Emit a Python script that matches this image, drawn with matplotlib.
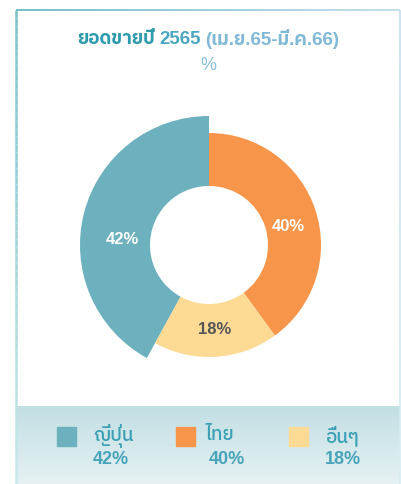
import matplotlib
matplotlib.use("Agg")
import matplotlib.pyplot as plt
import numpy as np
from matplotlib.patches import Rectangle
from matplotlib.collections import LineCollection
from matplotlib.colors import LinearSegmentedColormap

# data
categories = ["ญี่ปุ่น", "ไทย", "อื่นๆ"]
shares = [42, 40, 18]
colors = ["#6db0be", "#f7964a", "#feda94"]
label_colors = ["white", "white", "#555555"]
title_parts = ["ยอดขายปี", "2565", "(เม.ย.65-มี.ค.66)"]
title_colors = ["#2e9aae", "#4aa7c0", "#80b9d5"]
unit = "%"

FONT = ["Liberation Sans", "IBM Plex Sans Thai"]
W, H = 401, 485

fig = plt.figure(figsize=(W / 100, H / 100), dpi=100)
fig.patch.set_facecolor("white")

# background axes in pixel coordinates
bg = fig.add_axes([0, 0, 1, 1])
bg.set_xlim(0, W)
bg.set_ylim(H, 0)
bg.axis("off")

# legend panel gradient
grad = np.linspace(0, 1, 100).reshape(-1, 1)
cmap_panel = LinearSegmentedColormap.from_list("p", ["#c2dfe4", "#e6f1f3"])
bg.imshow(grad, cmap=cmap_panel, extent=[17, 399.5, 485, 407], aspect="auto", zorder=0)

# frame lines with gradients
def grad_line(x0, y0, x1, y1, c0, c1, lw):
    n = 60
    xs = np.linspace(x0, x1, n + 1)
    ys = np.linspace(y0, y1, n + 1)
    segs = [[(xs[i], ys[i]), (xs[i + 1], ys[i + 1])] for i in range(n)]
    cm = LinearSegmentedColormap.from_list("l", [c0, c1])
    lc = LineCollection(segs, colors=cm(np.linspace(0, 1, n)), linewidths=lw, zorder=2)
    bg.add_collection(lc)

grad_line(16, 11, 400, 11, "#72bfc8", "#c6deec", 1.4)
grad_line(16, 11, 16, 485, "#78c2ca", "#c8e8ea", 1.8)
grad_line(399.5, 11, 399.5, 485, "#c6deec", "#d8ecf2", 1.2)

# title made of gradient-coloured pieces
renderer = fig.canvas.get_renderer()
texts = []
for part, c in zip(title_parts, title_colors):
    t = bg.text(0, 39, part, fontsize=13.5, fontweight="bold", color=c,
                family=FONT, va="center", ha="left")
    texts.append(t)
gap = 4
widths = [t.get_window_extent(renderer).width for t in texts]
total = sum(widths) + gap * (len(widths) - 1)
x = 208 - total / 2
for t, w in zip(texts, widths):
    t.set_x(x)
    x += w + gap

bg.text(208, 65, unit, fontsize=13, color="#8cc0d8", family=FONT,
        ha="center", va="center")

# donut
cx, cy, R = 209, 246, 112
half = 140
ax = fig.add_axes([(cx - half) / W, (H - cy - half) / H, 2 * half / W, 2 * half / H])
start = 90 + shares[0] / 100 * 360
wedges, _ = ax.pie(shares, colors=colors, startangle=start, counterclock=False,
                   radius=1, wedgeprops=dict(width=0.473, linewidth=0))
inner = 59 / R
wedges[0].set_radius(129 / R)
wedges[0].set_width(129 / R - inner)
ax.set_xlim(-half / R, half / R)
ax.set_ylim(-half / R, half / R)

lab_r = [0.78, 0.73, 0.745]
lab_shift = [10, -4, 0.5]
for w, s, lc, r, d in zip(wedges, shares, label_colors, lab_r, lab_shift):
    ang = np.deg2rad((w.theta1 + w.theta2) / 2 + d)
    ax.text(r * np.cos(ang), r * np.sin(ang), f"{s}%", ha="center", va="center",
            fontsize=12, fontweight="bold", color=lc, family=FONT)

# legend
sq_x = [57, 176, 289]
txt_x = [93, 205, 325]
pct_x = [93, 209, 325]
for i in range(len(categories)):
    bg.add_patch(Rectangle((sq_x[i], 428), 19, 19, color=colors[i], zorder=3))
    bg.text(txt_x[i], 436, categories[i], fontsize=13.5, fontweight="medium",
            color="#3a9fb4", family=FONT, va="center", ha="left", zorder=3)
    bg.text(pct_x[i], 460, f"{shares[i]}%", fontsize=13, fontweight="bold",
            color="#48a5b9", family=FONT, va="center", ha="left", zorder=3)

fig.savefig("out.png", dpi=100)
